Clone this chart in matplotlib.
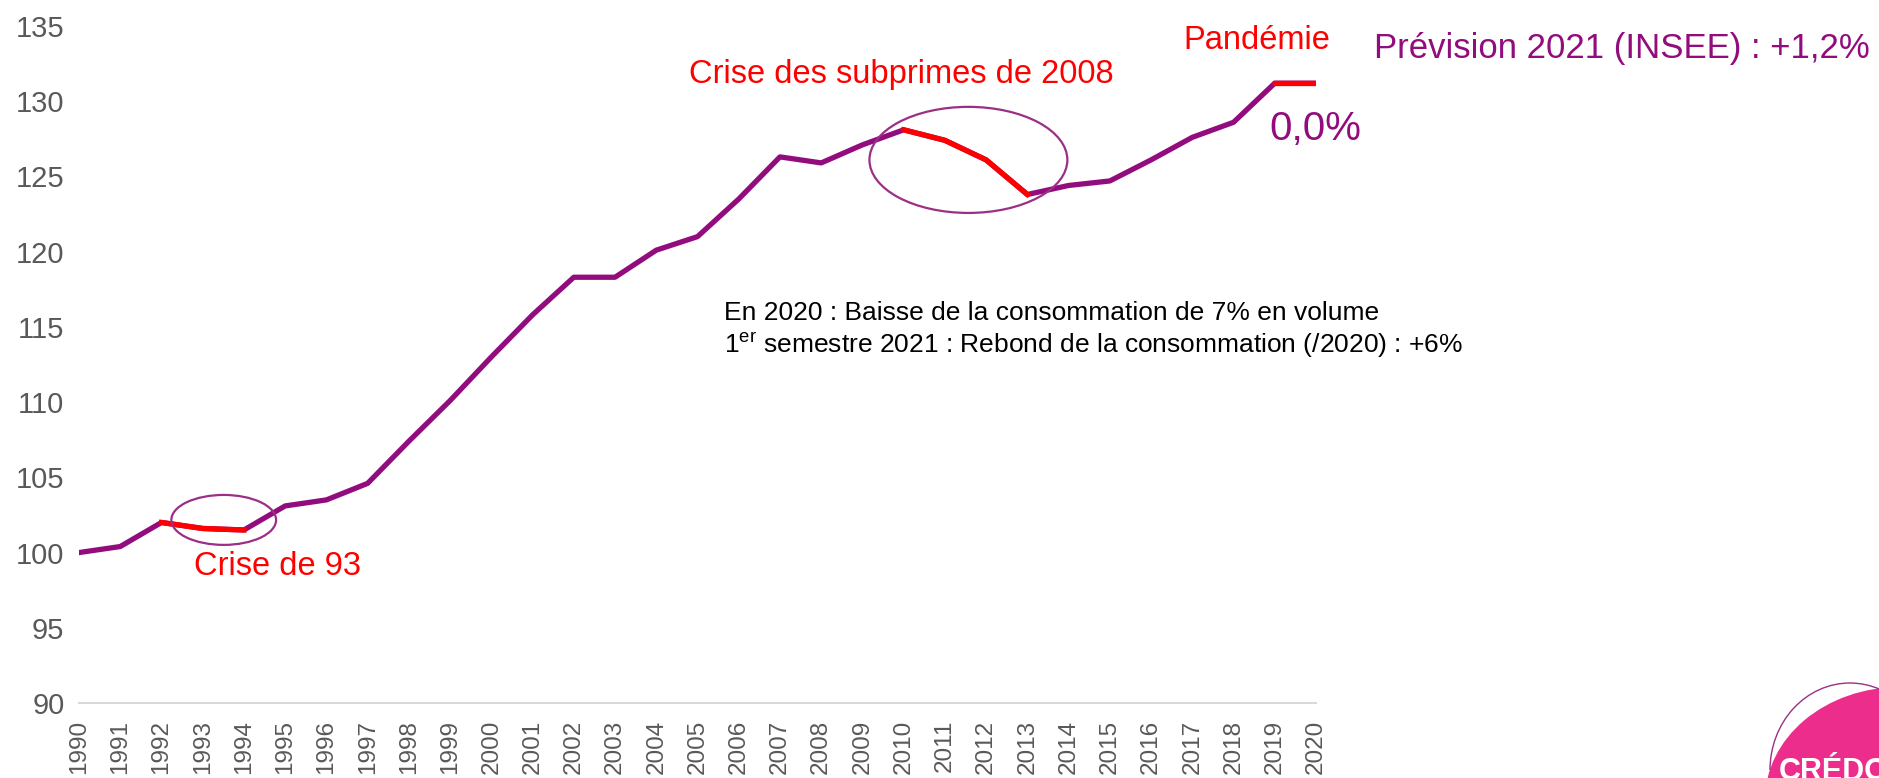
import numpy as np
import matplotlib
matplotlib.use("Agg")
import matplotlib.pyplot as plt
from matplotlib.patches import Ellipse, Arc

years = np.arange(1990, 2021)
index_values = [100.0, 100.4, 102.0, 101.6, 101.5, 103.1, 103.5, 104.6, 107.4, 110.1,
                113.0, 115.8, 118.3, 118.3, 120.1, 121.0, 123.5, 126.3, 125.9, 127.1,
                128.1, 127.4, 126.1, 123.8, 124.4, 124.7, 126.1, 127.6, 128.6, 131.2,
                131.2]
# crisis periods highlighted in red (start year, end year)
crises = [(1992, 1994), (2010, 2013), (2019, 2020)]

purple = '#920C7E'
red = '#FF0000'
grey = '#595959'

plt.rcParams['font.family'] = ['Liberation Sans', 'DejaVu Sans']
plt.rcParams['mathtext.fontset'] = 'custom'
plt.rcParams['mathtext.rm'] = 'Liberation Sans'

W, H = 1879, 778
fig = plt.figure(figsize=(W / 100, H / 100), dpi=100)
ax = fig.add_axes([79 / W, 75 / H, (1316 - 79) / W, (703 - 26) / H])

ax.plot(years, index_values, color=purple, linewidth=3.8, zorder=3)
vals = np.array(index_values)
for a, b in crises:
    m = (years >= a) & (years <= b)
    ax.plot(years[m], vals[m], color=red, linewidth=3.8, zorder=4)

ax.set_xlim(1990, 2020)
ax.set_ylim(90, 135)
ax.set_xticks(years)
ax.set_xticklabels([str(y) for y in years], rotation=90, fontsize=17.5, color=grey)
ax.set_yticks(np.arange(90, 136, 5))
ax.tick_params(axis='y', length=0, pad=10.5, labelsize=21, labelcolor=grey)
ax.tick_params(axis='x', length=0, pad=12)
for s in ['left', 'right', 'top']:
    ax.spines[s].set_visible(False)
ax.spines['bottom'].set_color('#D9D9D9')
ax.spines['bottom'].set_linewidth(1.5)

# circles around the crises
ax.add_patch(Ellipse((1993.51, 102.17), 2.54, 3.32, fill=False, edgecolor='#9B2F86', linewidth=1.6, zorder=5))
ax.add_patch(Ellipse((2011.57, 126.1), 4.80, 7.05, fill=False, edgecolor='#9B2F86', linewidth=1.6, zorder=5))

ax.text(1992.8, 98.5, 'Crise de 93', color=red, fontsize=23.5, va='baseline')
ax.text(2004.8, 131.2, 'Crise des subprimes de 2008', color=red, fontsize=23.5, va='baseline')
ax.text(2016.78, 133.45, 'Pandémie', color=red, fontsize=23.5, va='baseline', clip_on=False)
ax.text(2021.4, 132.9, 'Prévision 2021 (INSEE) : +1,2%', color=purple, fontsize=25,
        va='baseline', clip_on=False)
ax.text(2018.86, 127.4, '0,0%', color=purple, fontsize=29, va='baseline', clip_on=False)

ax.text(2005.65, 115.47, 'En 2020 : Baisse de la consommation de 7% en volume',
        fontsize=19, color='black', va='baseline')
ax.text(2005.65, 113.27, r'1$^{\mathrm{er}}$ semestre 2021 : Rebond de la consommation (/2020) : +6%',
        fontsize=19, color='black', va='baseline')

# CREDOC logo, cut by the bottom right corner
fig.patches.append(Ellipse((1900 / W, (H - 800) / H), 270 / W, 226 / H, transform=fig.transFigure,
                           facecolor='#EC2D8C', edgecolor='none'))
fig.patches.append(Arc((1850 / W, (H - 770) / H), 160 / W, 174 / H, theta1=0, theta2=180,
                       transform=fig.transFigure, edgecolor='#9B2F86', linewidth=1.0))
fig.text(1779 / W, (H - 780) / H, 'CRÉDOC', color='white', fontsize=22, fontweight='bold',
         va='baseline')

fig.savefig('out.png', dpi=100)
